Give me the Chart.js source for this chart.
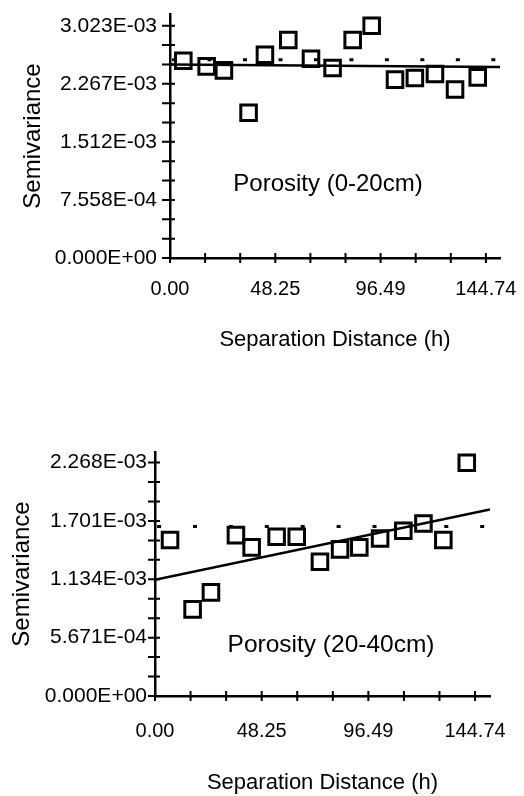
<!DOCTYPE html>
<html><head><meta charset="utf-8">
<script src="https://cdn.jsdelivr.net/npm/chart.js@4/dist/chart.umd.min.js"></script>
<style>
html,body{margin:0;padding:0;background:#fff;width:524px;height:796px;overflow:hidden}
.box{position:absolute;left:0;width:524px}
#b1{top:0;height:370px}
#b2{top:420px;height:376px}
</style></head><body>
<div class="box" id="b1"><canvas id="c1"></canvas></div>
<div class="box" id="b2"><canvas id="c2"></canvas></div>
<script>
// ---- data: Porosity (0-20cm) ----
const lagTop = [6.1, 16.8, 24.7, 36.0, 43.5, 54.2, 64.6, 74.5, 83.7, 92.4, 103.1, 112.2, 121.4, 130.6, 141.0];
const semiTop = [2.567e-3, 2.494e-3, 2.442e-3, 1.890e-3, 2.645e-3, 2.838e-3, 2.593e-3, 2.472e-3, 2.838e-3, 3.023e-3, 2.322e-3, 2.342e-3, 2.394e-3, 2.193e-3, 2.351e-3];
const modelTop = [2.519e-3, 2.485e-3];
const sillTop = 2.58e-3;
const yMajorTop = [0, 7.558e-4, 1.512e-3, 2.267e-3, 3.023e-3];
const yLabelsTop = ['0.000E+00', '7.558E-04', '1.512E-03', '2.267E-03', '3.023E-03'];

// ---- data: Porosity (20-40cm) ----
const lagBot = [6.8, 17.0, 25.3, 36.6, 43.7, 55.0, 64.1, 74.6, 83.7, 92.4, 101.8, 112.3, 121.4, 130.4, 141.0];
const semiBot = [1.515e-3, 8.42e-4, 1.007e-3, 1.563e-3, 1.444e-3, 1.547e-3, 1.547e-3, 1.304e-3, 1.425e-3, 1.444e-3, 1.531e-3, 1.605e-3, 1.677e-3, 1.515e-3, 2.266e-3];
const modelBot = [1.13e-3, 1.813e-3];
const sillBot = 1.646e-3;
const yMajorBot = [0, 5.671e-4, 1.134e-3, 1.701e-3, 2.268e-3];
const yLabelsBot = ['0.000E+00', '5.671E-04', '1.134E-03', '1.701E-03', '2.268E-03'];

// ---- shared x axis ----
const xMajor = [0, 48.25, 96.49, 144.74];
const xLabels = ['0.00', '48.25', '96.49', '144.74'];

const FONT = "'Liberation Sans', Arial, Helvetica, sans-serif";

function buildTicks(major) {
  const vals = [];
  for (let i = 0; i < major.length - 1; i++) {
    const a = major[i], b = major[i + 1];
    vals.push(a, a + (b - a) / 3, a + 2 * (b - a) / 3);
  }
  vals.push(major[major.length - 1]);
  return vals;
}

const crossTicks = {
  id: 'crossTicks',
  afterDraw(chart, args, o) {
    const {ctx, scales: {x, y}} = chart;
    ctx.save();
    ctx.strokeStyle = '#000';
    ctx.lineWidth = 2;
    ctx.beginPath();
    x.ticks.forEach(t => { const p = x.getPixelForValue(t.value); ctx.moveTo(p, x.top - o.xIn); ctx.lineTo(p, x.top + o.xOut); });
    y.ticks.forEach(t => { const p = y.getPixelForValue(t.value); ctx.moveTo(y.right - o.yOut, p); ctx.lineTo(y.right + o.yIn, p); });
    ctx.stroke();
    ctx.restore();
  }
};

const note = {
  id: 'note',
  afterDatasetsDraw(chart, args, o) {
    const {ctx, scales: {x, y}} = chart;
    ctx.save();
    ctx.font = o.size + 'px ' + FONT;
    ctx.fillStyle = '#000';
    ctx.textAlign = 'center';
    ctx.textBaseline = 'middle';
    ctx.fillText(o.text, x.getPixelForValue(o.x), y.getPixelForValue(o.y));
    ctx.restore();
  }
};

function zeroPad(s) { s.paddingLeft = 0; s.paddingRight = 0; s.paddingTop = 0; s.paddingBottom = 0; }

function makeChart(id, d, g) {
  const xTicks = buildTicks(xMajor);
  const yTicks = buildTicks(d.yMajor);
  return new Chart(document.getElementById(id), {
    type: 'scatter',
    data: {
      datasets: [
        { data: d.lags.map((x, i) => ({x, y: d.vals[i]})), pointStyle: 'rect', pointRadius: g.pr, pointHoverRadius: g.pr,
          borderColor: '#000', backgroundColor: 'rgba(0,0,0,0)', borderWidth: 3, pointBorderWidth: 3, order: 0 },
        { data: [{x: 0, y: d.model[0]}, {x: g.xMax, y: d.model[1]}], showLine: true, pointRadius: 0,
          borderColor: '#000', borderWidth: 2.5, order: 1 },
        { data: [{x: 0, y: d.sill}, {x: g.xMax, y: d.sill}], showLine: true, pointRadius: 0,
          borderColor: '#000', borderWidth: 3, borderDash: g.dash, borderDashOffset: g.dashOffset, order: 2 }
      ]
    },
    options: {
      responsive: true, maintainAspectRatio: false, animation: false, events: [],
      layout: {padding: {top: g.top, right: 524 - g.right, left: 0, bottom: 0}},
      plugins: {
        legend: {display: false}, tooltip: {enabled: false},
        crossTicks: {xIn: 5, xOut: 5, yIn: 5, yOut: g.yOut},
        note: {text: d.note, x: g.noteX, y: g.noteY, size: g.noteSize}
      },
      scales: {
        x: {
          type: 'linear', min: 0, max: g.xMax,
          afterBuildTicks(s) { s.ticks = xTicks.map(v => ({value: v})); },
          afterFit(s) { s.height = g.H - g.bottom; zeroPad(s); },
          grid: {display: false, drawTicks: false},
          border: {display: true, color: '#000', width: 2.5},
          ticks: {autoSkip: false, maxRotation: 0, minRotation: 0, padding: g.xPad, color: '#000',
            font: {family: FONT, size: 20}, callback: (v, i) => (i % 3 === 0 ? xLabels[i / 3] : '')},
          title: {display: true, text: 'Separation Distance (h)', color: '#000',
            font: {family: FONT, size: 22}, padding: {top: 0, bottom: g.xTitlePad}}
        },
        y: {
          type: 'linear', min: 0, max: g.yMax,
          afterBuildTicks(s) { s.ticks = yTicks.map(v => ({value: v})); },
          afterFit(s) { s.width = g.left; zeroPad(s); },
          grid: {display: false, drawTicks: false},
          border: {display: true, color: '#000', width: 2.5},
          ticks: {autoSkip: false, padding: g.yPad, color: '#000',
            font: {family: FONT, size: 21}, callback: (v, i) => (i % 3 === 0 ? d.yLabels[i / 3] : '')},
          title: {display: true, text: 'Semivariance', color: '#000',
            font: {family: FONT, size: 24}, padding: {top: g.yTitlePad, bottom: 0}}
        }
      }
    },
    plugins: [crossTicks, note]
  });
}

makeChart('c1',
  {lags: lagTop, vals: semiTop, model: modelTop, sill: sillTop, yMajor: yMajorTop, yLabels: yLabelsTop, note: 'Porosity (0-20cm)'},
  {H: 370, top: 12, bottom: 258, left: 170, right: 500, xMax: 151.2, yMax: 3.176e-3, xPad: 19, yPad: 13,
   xTitlePad: 17, yTitlePad: 18.6, pr: 11, yOut: 8, dash: [4, 31.47], dashOffset: 33.4,
   noteX: 72.4, noteY: 9.56e-4, noteSize: 24});

makeChart('c2',
  {lags: lagBot, vals: semiBot, model: modelBot, sill: sillBot, yMajor: yMajorBot, yLabels: yLabelsBot, note: 'Porosity (20-40cm)'},
  {H: 376, top: 32, bottom: 276, left: 155, right: 490, xMax: 151.5, yMax: 2.371e-3, xPad: 23, yPad: 8,
   xTitlePad: 0, yTitlePad: 7.6, pr: 11, yOut: 7, dash: [4, 31.9], dashOffset: 33.8,
   noteX: 79.6, noteY: 4.95e-4, noteSize: 24.5});
</script>
</body></html>
